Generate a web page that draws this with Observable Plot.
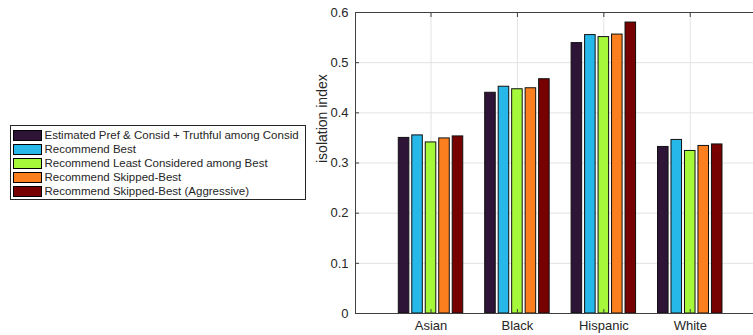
<!DOCTYPE html>
<html>
<head>
<meta charset="utf-8">
<script src="https://cdn.jsdelivr.net/npm/d3@7"></script>
<script src="https://cdn.jsdelivr.net/npm/@observablehq/plot@0.6"></script>
<style>
  body { margin: 0; background: #fff; font-family: "Liberation Sans", Arial, sans-serif; }
  #wrap { position: relative; width: 753px; height: 335px; }
  #legend { position: absolute; left: 10px; top: 125px; width: 294px; height: 71px;
    border: 1px solid #262626; background: #fff; font-size: 11.5px; color: #262626; padding-top: 2px; box-sizing: content-box; }
  .row { display: flex; align-items: center; height: 14px; white-space: nowrap; }
  .sw { width: 27px; height: 9px; border: 1px solid #000; margin-left: 1.5px; margin-right: 3px; flex: none; }
</style>
</head>
<body>
<div id="wrap"><div id="chart"></div><div id="legend"></div></div>
<script>
const categories = ["Asian", "Black", "Hispanic", "White"];
const seriesNames = [
  "Estimated Pref & Consid + Truthful among Consid",
  "Recommend Best",
  "Recommend Least Considered among Best",
  "Recommend Skipped-Best",
  "Recommend Skipped-Best (Aggressive)"
];
const seriesColors = ["#2e1437", "#27b8ea", "#a6f83a", "#fb7f1e", "#770000"];
// values[series][category]
const estimatedPref = [0.350, 0.440, 0.539, 0.332];
const recommendBest = [0.355, 0.452, 0.555, 0.346];
const leastConsidered = [0.341, 0.447, 0.551, 0.324];
const skippedBest = [0.349, 0.449, 0.556, 0.334];
const skippedAggressive = [0.353, 0.467, 0.580, 0.337];
const yTicks = [0, 0.1, 0.2, 0.3, 0.4, 0.5, 0.6];
const xDomain = [0.126, 4.732];
const yDomain = [0, 0.6];

const seriesValues = [estimatedPref, recommendBest, leastConsidered, skippedBest, skippedAggressive];
const pitch = 0.156, half = 0.061;
const data = [];
seriesValues.forEach((vals, j) => vals.forEach((v, i) => {
  const c = i + 1 + (j - 2) * pitch;
  data.push({series: seriesNames[j], cat: categories[i], x1: c - half, x2: c + half, value: v});
}));
const catPos = categories.map((c, i) => i + 1);

const chart = Plot.plot({
  width: 753, height: 335,
  marginLeft: 355, marginRight: 0, marginTop: 12, marginBottom: 22,
  style: {fontFamily: "'Liberation Sans', Arial, sans-serif", fontSize: "13px", color: "#262626", background: "transparent"},
  x: {domain: xDomain},
  y: {domain: yDomain},
  color: {domain: seriesNames, range: seriesColors},
  marks: [
    Plot.gridY(yTicks, {stroke: "#e3e3e3", strokeOpacity: 1}),
    Plot.gridX(catPos, {stroke: "#e3e3e3", strokeOpacity: 1}),
    Plot.rectY(data, {x1: "x1", x2: "x2", y: "value", fill: "series", stroke: "#111", strokeWidth: 1}),
    Plot.ruleY([yDomain[0]], {stroke: "#404040"}),
    Plot.ruleY([yDomain[1]], {stroke: "#404040"}),
    Plot.ruleX([xDomain[0]], {stroke: "#404040"}),
    Plot.axisY(yTicks, {tickSize: 0, tickPadding: 7, tickFormat: d3.format("~g"), label: null, fontSize: 13}),
    Plot.axisY(yTicks, {tickSize: -4, tickFormat: () => "", label: null, stroke: "#404040"}),
    Plot.axisX(catPos, {anchor: "bottom", tickSize: 0, tickPadding: 7, tickFormat: d => categories[d - 1], label: null, fontSize: 13}),
    Plot.axisX(catPos, {anchor: "bottom", tickSize: -4, tickFormat: () => "", label: null, stroke: "#404040"}),
    Plot.axisX(catPos, {anchor: "top", tickSize: -4, tickFormat: () => "", label: null, stroke: "#404040"}),
    Plot.text(["isolation index"], {frameAnchor: "left", dx: -33, rotate: -90, fontSize: 14, fill: "#262626"})
  ]
});
document.getElementById("chart").append(chart);

const legend = document.getElementById("legend");
seriesNames.forEach((n, j) => {
  const row = document.createElement("div");
  row.className = "row";
  const sw = document.createElement("div");
  sw.className = "sw";
  sw.style.background = seriesColors[j];
  const t = document.createElement("span");
  t.textContent = n;
  row.append(sw, t);
  legend.append(row);
});
</script>
</body>
</html>
